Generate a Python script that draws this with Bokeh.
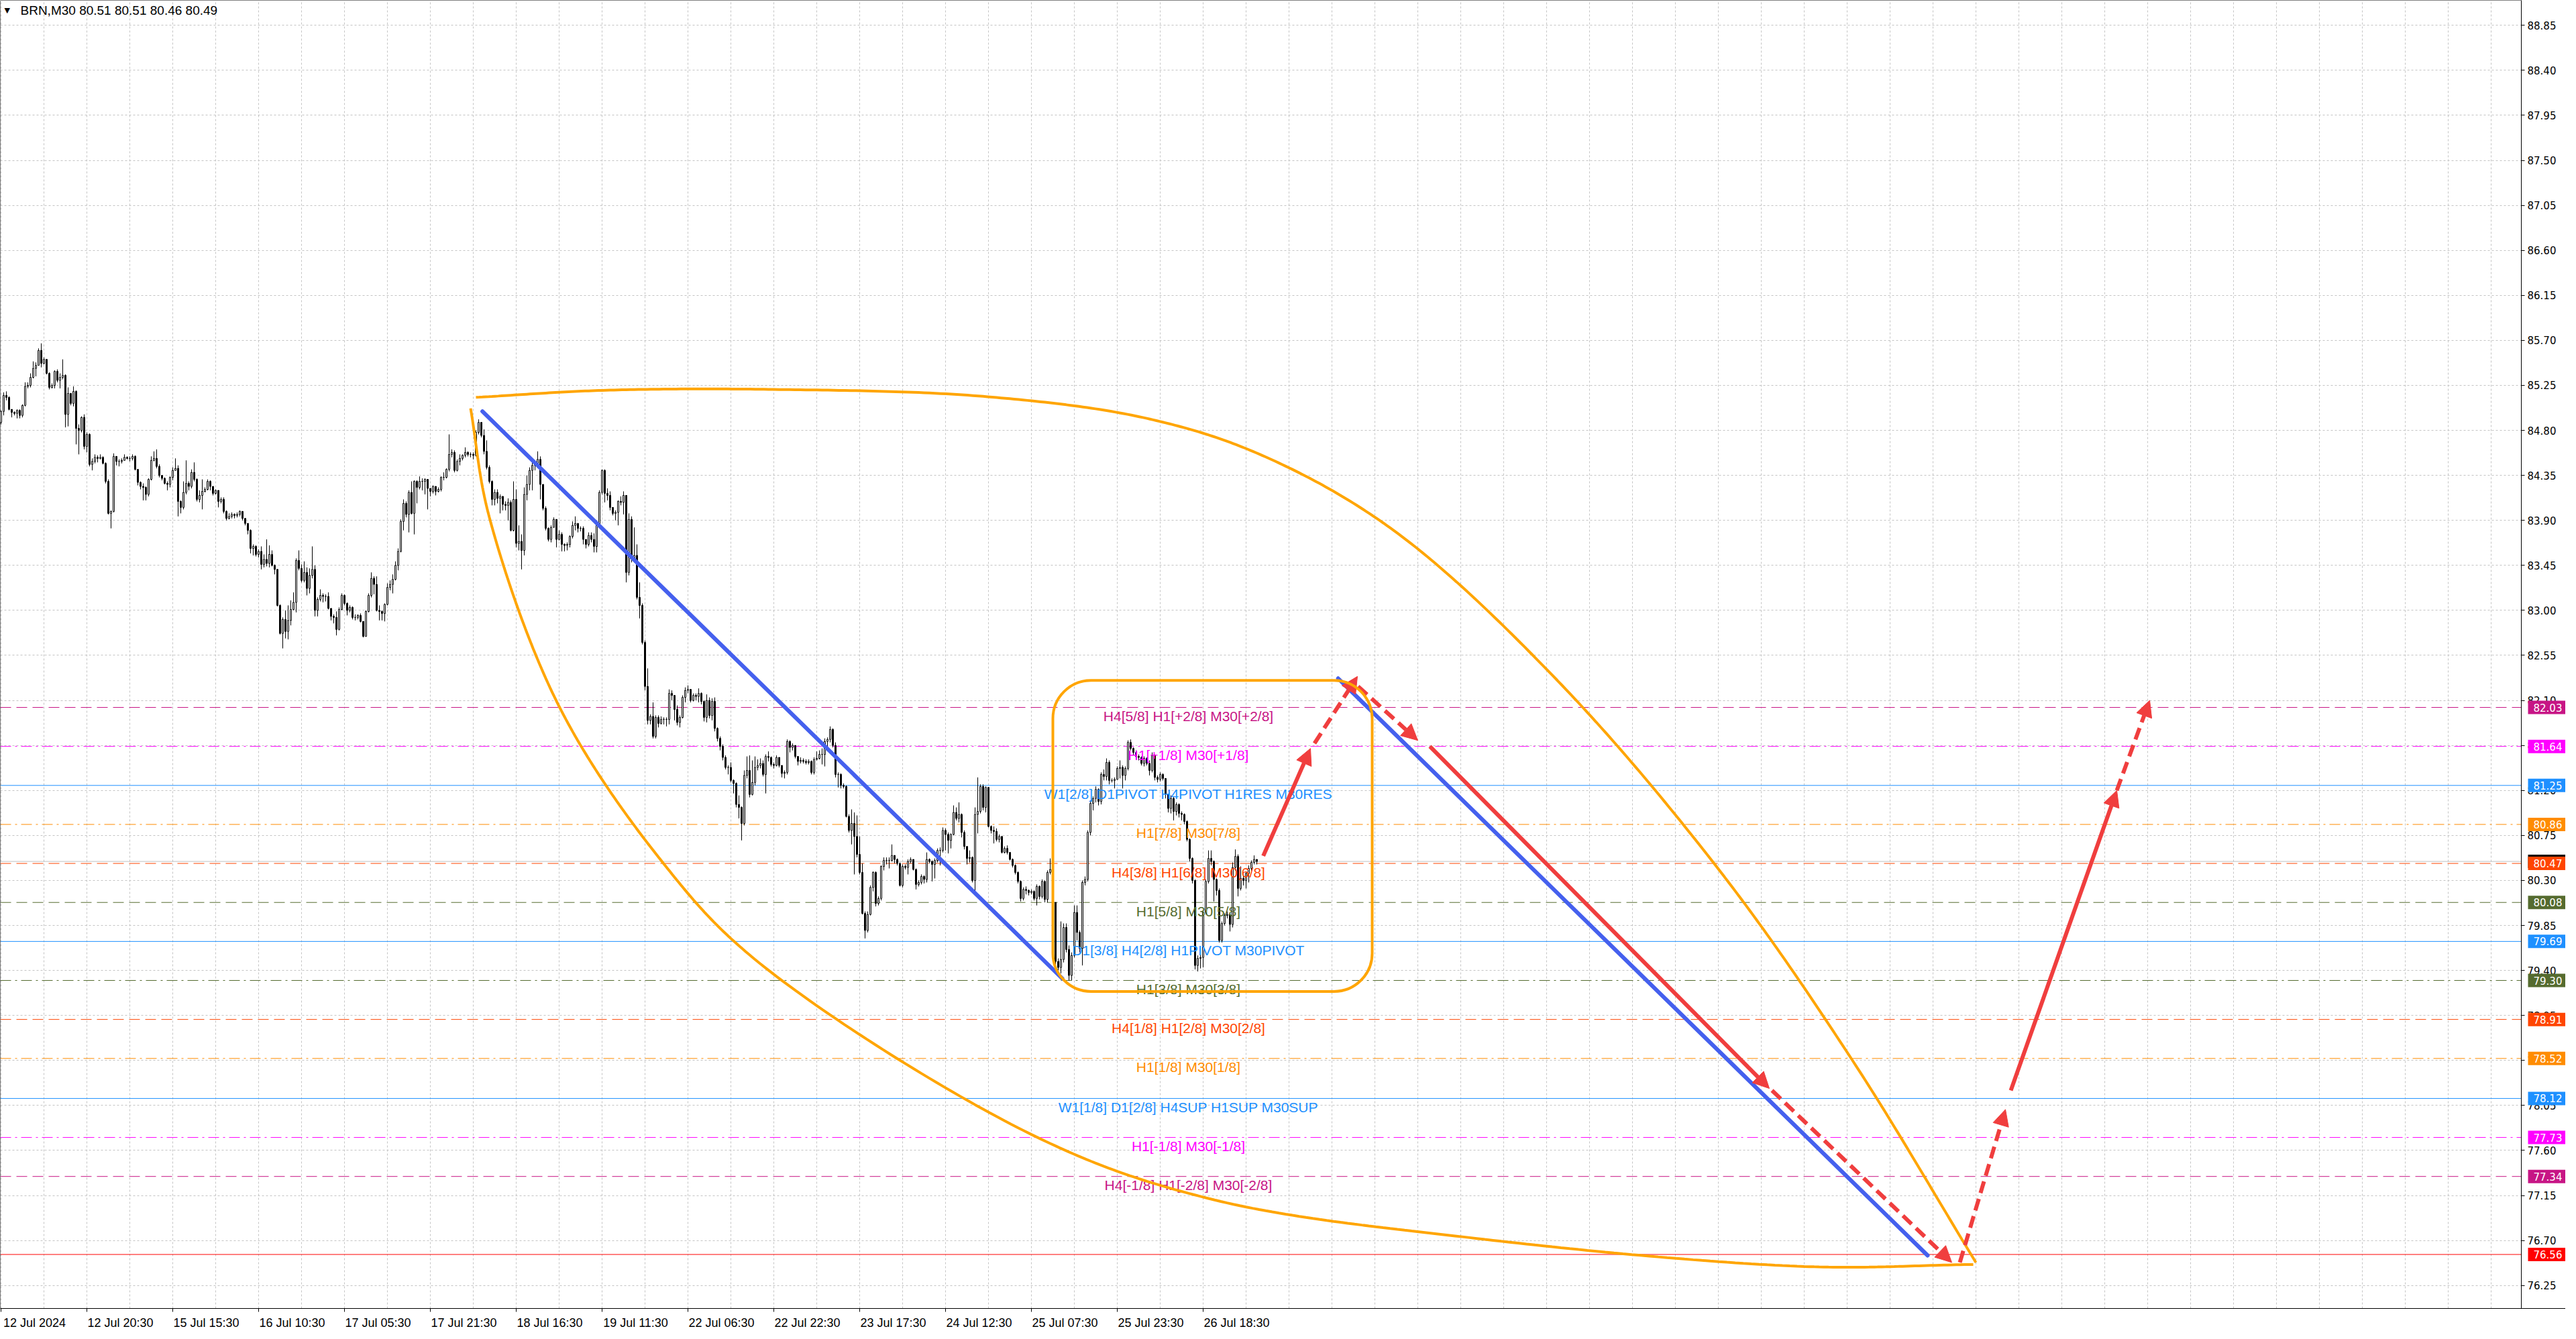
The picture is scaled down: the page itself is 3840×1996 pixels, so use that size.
import numpy as np
from bokeh.plotting import figure
from bokeh.models import (ColumnDataSource, Range1d, FixedTicker, Span, Label, Arrow,
                          NormalHead, BoxAnnotation, LinearAxis)
from bokeh.core.properties import value
from bokeh.embed import file_html
from bokeh.resources import INLINE

# ---------------- data ----------------
symbol = "BRN,M30"
first_open = 84.88

closes = [
    84.99, 85.15, 85.13, 85.01, 84.98, 84.97, 85.00, 84.95, 85.05, 85.24,
    85.25, 85.33, 85.42, 85.45, 85.60, 85.47, 85.51, 85.37, 85.23, 85.25,
    85.39, 85.30, 85.33, 85.35, 84.96, 85.17, 85.07, 85.19, 84.82, 84.80,
    84.93, 84.64, 84.76, 84.46, 84.49, 84.53, 84.52, 84.53, 84.47, 84.29,
    83.97, 83.99, 84.54, 84.49, 84.49, 84.50, 84.53, 84.52, 84.52, 84.54,
    84.41, 84.28, 84.24, 84.23, 84.16, 84.31, 84.50, 84.52, 84.44, 84.35,
    84.32, 84.27, 84.26, 84.33, 84.40, 84.42, 84.09, 84.03, 84.18, 84.27,
    84.24, 84.38, 84.31, 84.11, 84.15, 84.19, 84.21, 84.29, 84.24, 84.17,
    84.20, 84.09, 84.11, 83.99, 83.92, 83.94, 83.96, 83.95, 83.96, 83.99,
    83.92, 83.87, 83.80, 83.62, 83.64, 83.56, 83.59, 83.46, 83.51, 83.47,
    83.56, 83.45, 83.41, 83.05, 82.77, 82.91, 82.79, 82.90, 83.01, 83.08,
    83.50, 83.42, 83.30, 83.38, 83.22, 83.35, 83.41, 83.00, 83.11, 83.15,
    83.14, 83.14, 83.02, 82.94, 82.93, 82.81, 83.01, 83.15, 83.07, 83.00,
    83.03, 82.93, 82.93, 82.95, 82.89, 82.74, 82.99, 83.15, 83.32, 83.26,
    83.00, 82.99, 82.97, 83.06, 83.23, 83.26, 83.31, 83.45, 83.59, 83.89,
    84.07, 83.96, 84.18, 83.97, 84.29, 84.23, 84.29, 84.29, 84.31, 84.22,
    84.19, 84.24, 84.19, 84.21, 84.33, 84.33, 84.41, 84.56, 84.58, 84.40,
    84.49, 84.52, 84.55, 84.58, 84.56, 84.56, 84.55, 84.78, 84.88, 84.75,
    84.59, 84.43, 84.29, 84.11, 84.18, 84.12, 84.14, 84.06, 84.05, 84.08,
    83.80, 84.11, 83.67, 83.69, 83.60, 84.16, 84.26, 84.40, 84.45, 84.46,
    84.51, 84.26, 84.02, 83.82, 83.71, 83.83, 83.91, 83.71, 83.76, 83.66,
    83.65, 83.66, 83.74, 83.85, 83.87, 83.82, 83.82, 83.71, 83.66, 83.75,
    83.71, 83.64, 83.85, 84.18, 84.40, 84.17, 84.15, 84.03, 83.97, 83.98,
    84.09, 84.08, 84.15, 83.38, 83.91, 83.52, 83.55, 83.13, 83.05, 82.68,
    82.24, 81.90, 81.94, 81.74, 81.93, 81.87, 81.91, 81.91, 81.91, 82.17,
    82.15, 82.01, 81.88, 81.93, 82.13, 82.20, 82.21, 82.10, 82.15, 82.14,
    82.17, 82.09, 81.93, 82.10, 81.95, 82.09, 81.82, 81.72, 81.64, 81.53,
    81.43, 81.43, 81.30, 81.27, 81.06, 81.03, 80.87, 81.35, 81.40, 81.16,
    81.28, 81.43, 81.45, 81.47, 81.36, 81.54, 81.53, 81.46, 81.45, 81.53,
    81.45, 81.37, 81.38, 81.69, 81.63, 81.65, 81.54, 81.49, 81.50, 81.49,
    81.48, 81.49, 81.38, 81.51, 81.52, 81.56, 81.56, 81.69, 81.71, 81.81,
    81.65, 81.36, 81.36, 81.25, 81.24, 80.94, 80.80, 80.87, 80.74, 80.56,
    80.38, 79.97, 79.80, 79.96, 80.23, 80.38, 80.07, 80.12, 80.44, 80.50,
    80.50, 80.50, 80.55, 80.51, 80.47, 80.25, 80.44, 80.43, 80.49, 80.51,
    80.41, 80.26, 80.28, 80.34, 80.31, 80.51, 80.49, 80.46, 80.50, 80.60,
    80.60, 80.80, 80.76, 80.70, 80.76, 80.98, 80.92, 80.96, 80.78, 80.64,
    80.52, 80.53, 80.30, 80.96, 80.99, 81.24, 81.03, 81.23, 80.84, 80.80,
    80.79, 80.71, 80.74, 80.58, 80.62, 80.58, 80.51, 80.45, 80.38, 80.29,
    80.12, 80.21, 80.20, 80.18, 80.19, 80.12, 80.24, 80.14, 80.29, 80.11,
    80.38, 80.41, 80.08, 79.49, 79.43, 79.51, 79.83, 79.61, 79.35, 79.55,
    79.98, 79.78, 79.62, 80.28, 80.31, 80.78, 81.07, 81.12, 81.21, 81.09,
    81.36, 81.34, 81.48, 81.30, 81.30, 81.31, 81.42, 81.43, 81.35, 81.42,
    81.68, 81.62, 81.58, 81.54, 81.53, 81.47, 81.52, 81.47, 81.40, 81.55,
    81.33, 81.31, 81.36, 81.32, 81.16, 81.02, 81.12, 80.99, 81.06, 80.97,
    80.96, 80.89, 80.71, 80.52, 80.30, 79.45, 79.52, 79.53, 79.98, 80.29,
    80.52, 80.49, 80.31, 80.20, 79.70, 79.87, 79.95, 79.96, 79.86, 80.43,
    80.54, 80.22, 80.32, 80.30, 80.37, 80.42, 80.48, 80.51, 80.49,
]

highs = [
    85.00, 85.18, 85.19, 85.14, 85.00, 84.99, 85.01, 85.01, 85.06, 85.28,
    85.28, 85.37, 85.49, 85.48, 85.62, 85.67, 85.53, 85.51, 85.38, 85.27,
    85.40, 85.41, 85.37, 85.51, 85.36, 85.23, 85.16, 85.24, 85.20, 84.86,
    84.94, 84.96, 84.78, 84.77, 84.52, 84.56, 84.55, 84.56, 84.54, 84.48,
    84.31, 84.00, 84.57, 84.53, 84.51, 84.52, 84.56, 84.54, 84.54, 84.56,
    84.55, 84.41, 84.29, 84.27, 84.24, 84.32, 84.54, 84.59, 84.61, 84.46,
    84.35, 84.33, 84.29, 84.34, 84.43, 84.52, 84.45, 84.10, 84.29, 84.50,
    84.29, 84.41, 84.48, 84.32, 84.20, 84.31, 84.23, 84.31, 84.30, 84.23,
    84.21, 84.12, 84.13, 84.13, 84.00, 83.97, 83.98, 83.97, 83.98, 84.00,
    83.99, 83.92, 83.87, 83.81, 83.66, 83.65, 83.61, 83.64, 83.56, 83.71,
    83.65, 83.60, 83.46, 83.40, 83.06, 82.93, 83.00, 83.05, 83.10, 83.18,
    83.52, 83.60, 83.46, 83.49, 83.43, 83.42, 83.64, 83.45, 83.13, 83.21,
    83.17, 83.16, 83.18, 82.99, 82.96, 82.99, 83.03, 83.17, 83.16, 83.08,
    83.05, 83.04, 82.96, 82.96, 82.97, 82.89, 83.00, 83.17, 83.38, 83.34,
    83.34, 83.05, 83.00, 83.07, 83.27, 83.30, 83.36, 83.49, 83.62, 83.91,
    84.11, 84.09, 84.20, 84.29, 84.30, 84.30, 84.34, 84.32, 84.32, 84.29,
    84.22, 84.25, 84.23, 84.23, 84.34, 84.38, 84.42, 84.76, 84.61, 84.60,
    84.51, 84.56, 84.56, 84.63, 84.59, 84.58, 84.58, 84.80, 84.91, 84.88,
    84.81, 84.70, 84.45, 84.30, 84.21, 84.21, 84.16, 84.14, 84.09, 84.12,
    84.10, 84.29, 84.21, 83.85, 83.76, 84.23, 84.35, 84.43, 84.48, 84.48,
    84.59, 84.54, 84.26, 84.04, 83.83, 83.85, 83.93, 83.80, 83.80, 83.78,
    83.67, 83.68, 83.75, 83.89, 83.94, 83.85, 83.84, 83.84, 83.71, 83.78,
    83.78, 83.77, 83.87, 84.20, 84.41, 84.41, 84.22, 84.19, 84.03, 84.00,
    84.10, 84.14, 84.19, 84.09, 83.97, 83.94, 83.83, 83.66, 83.28, 83.07,
    82.70, 82.42, 81.96, 82.08, 81.95, 81.95, 81.94, 81.93, 81.93, 82.21,
    82.20, 82.14, 82.05, 81.95, 82.15, 82.23, 82.25, 82.21, 82.17, 82.17,
    82.22, 82.18, 82.10, 82.16, 82.13, 82.12, 82.13, 81.83, 81.74, 81.66,
    81.55, 81.45, 81.48, 81.31, 81.28, 81.15, 81.04, 81.40, 81.54, 81.55,
    81.50, 81.54, 81.51, 81.52, 81.50, 81.56, 81.59, 81.54, 81.48, 81.55,
    81.53, 81.41, 81.40, 81.71, 81.70, 81.67, 81.65, 81.54, 81.53, 81.52,
    81.51, 81.51, 81.50, 81.53, 81.59, 81.60, 81.62, 81.72, 81.73, 81.84,
    81.82, 81.68, 81.38, 81.37, 81.27, 81.25, 80.96, 81.01, 80.98, 80.95,
    80.74, 80.47, 79.99, 79.99, 80.25, 80.39, 80.39, 80.14, 80.45, 80.53,
    80.53, 80.53, 80.66, 80.54, 80.52, 80.48, 80.46, 80.46, 80.51, 80.53,
    80.51, 80.42, 80.30, 80.36, 80.35, 80.58, 80.52, 80.50, 80.52, 80.62,
    80.63, 80.83, 80.82, 80.78, 80.77, 81.05, 81.03, 81.08, 80.97, 80.80,
    80.63, 80.60, 80.54, 81.03, 81.33, 81.26, 81.26, 81.24, 81.23, 80.85,
    80.84, 80.82, 80.76, 80.72, 80.64, 80.65, 80.58, 80.52, 80.46, 80.39,
    80.30, 80.23, 80.24, 80.21, 80.21, 80.20, 80.26, 80.25, 80.31, 80.30,
    80.40, 80.52, 80.44, 80.08, 79.52, 79.89, 79.87, 79.87, 79.65, 79.58,
    80.05, 80.05, 79.80, 80.30, 80.34, 80.80, 81.10, 81.14, 81.24, 81.22,
    81.38, 81.41, 81.52, 81.50, 81.32, 81.33, 81.44, 81.50, 81.45, 81.44,
    81.70, 81.71, 81.63, 81.60, 81.56, 81.54, 81.54, 81.53, 81.50, 81.58,
    81.56, 81.35, 81.38, 81.37, 81.31, 81.16, 81.15, 81.14, 81.08, 81.07,
    80.99, 80.97, 80.90, 80.72, 80.53, 80.31, 79.55, 79.56, 80.00, 80.31,
    80.60, 80.60, 80.50, 80.32, 80.22, 79.89, 79.97, 79.99, 79.97, 80.48,
    80.61, 80.56, 80.44, 80.36, 80.39, 80.45, 80.50, 80.55, 80.51,
]

lows = [
    84.86, 84.95, 85.10, 85.00, 84.93, 84.95, 84.92, 84.92, 84.93, 85.04,
    85.22, 85.23, 85.32, 85.34, 85.45, 85.43, 85.46, 85.36, 85.21, 85.22,
    85.22, 85.28, 85.22, 85.31, 84.83, 84.84, 85.05, 85.04, 84.66, 84.56,
    84.78, 84.61, 84.58, 84.44, 84.40, 84.47, 84.48, 84.51, 84.46, 84.27,
    83.96, 83.82, 83.98, 84.45, 84.44, 84.47, 84.50, 84.51, 84.49, 84.50,
    84.40, 84.25, 84.21, 84.10, 84.10, 84.14, 84.30, 84.49, 84.42, 84.33,
    84.30, 84.26, 84.20, 84.23, 84.30, 84.40, 83.94, 83.97, 84.01, 84.16,
    84.20, 84.22, 84.29, 84.09, 84.08, 84.01, 84.18, 84.20, 84.20, 84.15,
    84.16, 84.03, 84.07, 83.97, 83.90, 83.91, 83.92, 83.92, 83.93, 83.94,
    83.90, 83.85, 83.76, 83.57, 83.55, 83.54, 83.53, 83.41, 83.43, 83.44,
    83.43, 83.44, 83.36, 83.04, 82.76, 82.62, 82.72, 82.71, 82.85, 83.00,
    82.98, 83.40, 83.28, 83.28, 83.15, 83.17, 83.32, 82.94, 82.94, 83.09,
    83.08, 83.09, 83.01, 82.90, 82.87, 82.75, 82.80, 83.00, 83.05, 82.95,
    82.98, 82.91, 82.90, 82.91, 82.88, 82.73, 82.74, 82.98, 83.13, 83.16,
    82.99, 82.90, 82.90, 82.89, 83.05, 83.20, 83.17, 83.30, 83.40, 83.58,
    83.80, 83.93, 83.78, 83.96, 83.76, 84.07, 84.21, 84.20, 84.16, 84.01,
    84.14, 84.17, 84.15, 84.18, 84.19, 84.30, 84.32, 84.39, 84.53, 84.38,
    84.39, 84.45, 84.50, 84.53, 84.54, 84.53, 84.51, 84.54, 84.76, 84.73,
    84.56, 84.41, 84.27, 84.05, 84.05, 84.07, 83.97, 84.00, 84.00, 83.90,
    83.79, 83.79, 83.63, 83.60, 83.41, 83.55, 84.10, 84.20, 84.20, 84.40,
    84.45, 84.11, 84.00, 83.80, 83.69, 83.68, 83.85, 83.63, 83.70, 83.59,
    83.59, 83.60, 83.63, 83.72, 83.80, 83.78, 83.79, 83.66, 83.62, 83.64,
    83.68, 83.58, 83.58, 83.83, 84.16, 84.08, 84.10, 84.00, 83.95, 83.90,
    83.85, 84.05, 83.96, 83.28, 83.35, 83.48, 83.48, 83.11, 82.92, 82.66,
    82.20, 81.86, 81.86, 81.72, 81.72, 81.83, 81.86, 81.86, 81.84, 81.86,
    82.10, 81.90, 81.85, 81.83, 81.92, 82.08, 82.17, 82.08, 82.09, 82.10,
    82.08, 82.06, 81.89, 81.88, 81.92, 81.90, 81.79, 81.69, 81.60, 81.50,
    81.41, 81.36, 81.28, 81.17, 81.03, 80.92, 80.70, 80.85, 81.32, 81.13,
    81.15, 81.25, 81.40, 81.42, 81.34, 81.17, 81.49, 81.44, 81.42, 81.44,
    81.43, 81.33, 81.32, 81.36, 81.58, 81.60, 81.52, 81.45, 81.47, 81.47,
    81.46, 81.46, 81.36, 81.36, 81.50, 81.51, 81.46, 81.44, 81.60, 81.68,
    81.63, 81.33, 81.23, 81.22, 81.22, 80.93, 80.78, 80.66, 80.36, 80.53,
    80.36, 79.96, 79.72, 79.78, 79.95, 80.19, 80.04, 80.05, 80.10, 80.40,
    80.46, 80.42, 80.49, 80.47, 80.45, 80.24, 80.23, 80.41, 80.36, 80.47,
    80.40, 80.21, 80.24, 80.26, 80.27, 80.28, 80.47, 80.29, 80.32, 80.48,
    80.45, 80.58, 80.60, 80.57, 80.62, 80.75, 80.90, 80.88, 80.73, 80.61,
    80.46, 80.48, 80.28, 80.15, 80.77, 80.97, 81.00, 80.98, 80.83, 80.77,
    80.67, 80.69, 80.68, 80.57, 80.57, 80.56, 80.50, 80.43, 80.36, 80.27,
    80.09, 80.10, 80.16, 80.15, 80.16, 80.10, 80.05, 80.11, 80.12, 80.08,
    80.08, 80.36, 80.05, 79.45, 79.40, 79.37, 79.48, 79.58, 79.30, 79.30,
    79.53, 79.70, 79.58, 79.45, 80.25, 80.29, 80.75, 81.00, 81.08, 81.05,
    81.06, 81.30, 81.30, 81.26, 81.28, 81.22, 81.33, 81.32, 81.22, 81.30,
    81.40, 81.60, 81.55, 81.52, 81.50, 81.45, 81.44, 81.45, 81.35, 81.38,
    81.30, 81.28, 81.29, 81.30, 81.12, 80.98, 80.97, 80.90, 80.95, 80.93,
    80.90, 80.86, 80.69, 80.49, 80.27, 79.41, 79.39, 79.42, 79.43, 79.96,
    80.27, 80.45, 80.09, 80.15, 79.68, 79.68, 79.85, 79.92, 79.79, 79.83,
    80.40, 80.14, 80.20, 80.25, 80.22, 80.28, 80.40, 80.46, 80.46,
]

x_tick_bars = [0, 32, 64, 96, 128, 160, 192, 224, 256, 288, 320, 352, 384, 416, 448]
x_tick_labels = ["12 Jul 2024", "12 Jul 20:30", "15 Jul 15:30", "16 Jul 10:30",
                 "17 Jul 05:30", "17 Jul 21:30", "18 Jul 16:30", "19 Jul 11:30",
                 "22 Jul 06:30", "22 Jul 22:30", "23 Jul 17:30", "24 Jul 12:30",
                 "25 Jul 07:30", "25 Jul 23:30", "26 Jul 18:30"]

y_ticks = [76.25, 76.70, 77.15, 77.60, 78.05, 78.50, 78.95, 79.40, 79.85, 80.30,
           80.75, 81.20, 81.65, 82.10, 82.55, 83.00, 83.45, 83.90, 84.35, 84.80,
           85.25, 85.70, 86.15, 86.60, 87.05, 87.50, 87.95, 88.40, 88.85]
y_tick_labels = ["76.25", "76.70", "77.15", "77.60", "78.05", "78.50", "78.95", "79.40",
                 "79.85", "80.30", "80.75", "81.20", "81.65", "82.10", "82.55", "83.00",
                 "83.45", "83.90", "84.35", "84.80", "85.25", "85.70", "86.15", "86.60",
                 "87.05", "87.50", "87.95", "88.40", "88.85"]

level_prices = [82.03, 81.64, 81.25, 80.86, 80.47, 80.08, 79.69, 79.30,
                78.91, 78.52, 78.12, 77.73, 77.34]
level_texts = ["H4[5/8] H1[+2/8] M30[+2/8]",
               "H1[+1/8] M30[+1/8]",
               "W1[2/8] D1PIVOT H4PIVOT H1RES M30RES",
               "H1[7/8] M30[7/8]",
               "H4[3/8] H1[6/8] M30[6/8]",
               "H1[5/8] M30[5/8]",
               "D1[3/8] H4[2/8] H1PIVOT M30PIVOT",
               "H1[3/8] M30[3/8]",
               "H4[1/8] H1[2/8] M30[2/8]",
               "H1[1/8] M30[1/8]",
               "W1[1/8] D1[2/8] H4SUP H1SUP M30SUP",
               "H1[-1/8] M30[-1/8]",
               "H4[-1/8] H1[-2/8] M30[-2/8]"]
target_price = 76.56

# trend lines (bar index, price)
blue_x0 = [179.4, 498.3]
blue_y0 = [84.99, 82.32]
blue_x1 = [395.5, 718.0]
blue_y1 = [79.32, 76.55]

# orange curved outline, points read along the two arcs
upper_arc_bars = [177, 224, 286, 366, 427, 470, 519, 580, 641, 690, 736]
upper_arc_prices = [85.13, 85.20, 85.21, 85.14, 84.92, 84.55, 83.80, 82.30, 80.38, 78.50, 76.48]
lower_arc_bars = [175, 182, 208, 246, 281, 384, 450, 550, 672, 735]
lower_arc_prices = [85.02, 83.93, 82.04, 80.50, 79.51, 77.76, 77.12, 76.72, 76.44, 76.46]

# rounded consolidation box
box_left_bar, box_right_bar = 392, 511
box_top_price, box_bottom_price = 82.30, 79.19

# red forecast arrows
arrow_x0 = [470.4, 489.5, 505.75, 532.5, 660.0, 730.0, 749.0, 788.5]
arrow_y0 = [80.545, 81.67, 82.24, 81.64, 78.20, 76.48, 78.20, 81.20]
arrow_x1 = [488.0, 505.5, 528.0, 659.0, 727.0, 747.0, 788.5, 800.75]
arrow_y1 = [81.62, 82.34, 81.70, 78.22, 76.48, 78.01, 81.20, 82.10]
arrow_dashed = [False, True, True, False, True, True, False, True]

# ---------------- styles ----------------
level_colors = ["#C71585", "#FF00FF", "#1E90FF", "#FF8C00", "#FF4500", "#556B2F",
                "#1E90FF", "#556B2F", "#FF4500", "#FF8C00", "#1E90FF", "#FF00FF", "#C71585"]
DASH = "16 8"
DASHDOT = "16 6 3 6"
level_dashes = [DASH, DASHDOT, "solid", DASHDOT, DASH, DASH, "solid", DASHDOT,
                DASH, DASHDOT, "solid", DASHDOT, DASH]
ORANGE = "#FFA500"
BLUE = "#4560EE"
RED = "#F03E3E"
TEXT_CENTER_BAR = 442.5
W, H = 3824, 1984
XMIN = -0.25
PLOT_RIGHT = 939.25          # right edge of the price area (bar units)
XEND = XMIN + W / 4.0        # frame also covers the price-scale strip
YMIN, YMAX = 76.02, 89.10


def smooth(xs, ys, n=40, sx=4.0, sy=149.5):
    P = np.column_stack([np.asarray(xs, float) * sx, np.asarray(ys, float) * sy])
    P = np.vstack([2 * P[0] - P[1], P, 2 * P[-1] - P[-2]])
    out = []
    for i in range(1, len(P) - 2):
        p0, p1, p2, p3 = P[i - 1], P[i], P[i + 1], P[i + 2]
        t0 = 0.0
        t1 = t0 + np.linalg.norm(p1 - p0) ** 0.5
        t2 = t1 + np.linalg.norm(p2 - p1) ** 0.5
        t3 = t2 + np.linalg.norm(p3 - p2) ** 0.5
        t = np.linspace(t1, t2, n)[:, None]
        A1 = (t1 - t) / (t1 - t0) * p0 + (t - t0) / (t1 - t0) * p1
        A2 = (t2 - t) / (t2 - t1) * p1 + (t - t1) / (t2 - t1) * p2
        A3 = (t3 - t) / (t3 - t2) * p2 + (t - t2) / (t3 - t2) * p3
        B1 = (t2 - t) / (t2 - t0) * A1 + (t - t0) / (t2 - t0) * A2
        B2 = (t3 - t) / (t3 - t1) * A2 + (t - t1) / (t3 - t1) * A3
        out.append((t2 - t) / (t2 - t1) * B1 + (t - t1) / (t2 - t1) * B2)
    C = np.vstack(out)
    return C[:, 0] / sx, C[:, 1] / sy


# ---------------- figure ----------------
p = figure(width=W, height=H, x_range=Range1d(XMIN, XEND), y_range=Range1d(YMIN, YMAX),
           output_backend="svg", toolbar_location=None, y_axis_location=None,
           min_border_left=0, min_border_right=0, min_border_top=0, min_border_bottom=28)
p.background_fill_color = "white"
p.border_fill_color = "white"
p.outline_line_color = None

# grid
p.xgrid.ticker = FixedTicker(ticks=list(range(0, 930, 16)))
p.ygrid.ticker = FixedTicker(ticks=y_ticks)
p.grid.grid_line_color = "#C4C4C4"
p.grid.grid_line_dash = "3 3"
p.grid.grid_line_width = 1

# price scale on the right, fixed at the right edge of the price area
yaxis = LinearAxis(fixed_location=PLOT_RIGHT, ticker=FixedTicker(ticks=y_ticks),
                   major_label_overrides=dict(zip(y_ticks, y_tick_labels)))
yaxis.major_label_text_font = "DejaVu Sans"
yaxis.major_label_text_font_size = "15px"
yaxis.major_label_text_color = "black"
yaxis.major_tick_out = 5
yaxis.major_tick_in = 0
yaxis.minor_tick_line_color = None
yaxis.major_label_standoff = 4
yaxis.axis_line_color = "black"
p.add_layout(yaxis, "right")

# x axis (bottom): labels start at tick like MT4
label_centers = [b + 12.5 for b in x_tick_bars]
p.xaxis.ticker = FixedTicker(ticks=label_centers, minor_ticks=x_tick_bars)
p.xaxis.major_label_overrides = dict(zip(label_centers, x_tick_labels))
p.xaxis.major_tick_line_color = None
p.xaxis.major_tick_out = 0
p.xaxis.major_tick_in = 0
p.xaxis.minor_tick_out = 5
p.xaxis.minor_tick_in = 0
p.xaxis.minor_tick_line_color = "black"
p.xaxis.major_label_text_font = "Liberation Sans"
p.xaxis.major_label_text_font_size = "18px"
p.xaxis.major_label_text_color = "black"
p.xaxis.major_label_standoff = 6
p.xaxis.axis_line_color = "black"

# level lines
for price, col, dash in zip(level_prices, level_colors, level_dashes):
    p.add_layout(Span(location=price, dimension="width", line_color=col,
                      line_dash=dash, line_width=1, level="underlay"))
p.add_layout(Span(location=target_price, dimension="width", line_color="#FF0000",
                  line_width=1, level="underlay"))
p.add_layout(Span(location=closes[-1], dimension="width", line_color="#C0C0C0",
                  line_width=1, level="underlay"))

# blank the price-scale strip (hides grid / level lines there)
p.add_layout(BoxAnnotation(left=PLOT_RIGHT, fill_color="white", fill_alpha=1.0,
                           line_color=None, level="glyph"))
# frame of the price area
p.add_layout(BoxAnnotation(left=XMIN, right=PLOT_RIGHT, top=YMAX, bottom=YMIN,
                           fill_color=None, fill_alpha=0, line_color="black",
                           line_alpha=1.0, line_width=1, level="guide"))

# candles
n = len(closes)
opens = [first_open] + closes[:-1]
xs = list(range(n))
tops = [max(o, c) for o, c in zip(opens, closes)]
bots = [min(o, c) for o, c in zip(opens, closes)]
fills = ["white" if c >= o else "black" for o, c in zip(opens, closes)]
src = ColumnDataSource(dict(x=xs, hi=[max(h, t) for h, t in zip(highs, tops)],
                            lo=[min(l, b) for l, b in zip(lows, bots)],
                            top=tops, bottom=bots, fill=fills))
p.segment(x0="x", y0="lo", x1="x", y1="hi", source=src, line_color="black", line_width=1)
p.vbar(x="x", width=0.5, top="top", bottom="bottom", source=src, fill_color="fill",
       line_color="black", line_width=1)

# level texts
tsrc = ColumnDataSource(dict(x=[TEXT_CENTER_BAR] * len(level_prices), y=level_prices,
                             t=level_texts, c=level_colors))
p.text(x="x", y="y", text="t", text_color="c", source=tsrc,
       text_font=value("Liberation Sans"), text_font_size="21px",
       text_align="center", text_baseline="middle", y_offset=13)

# blue trend lines
p.segment(x0=blue_x0, y0=blue_y0, x1=blue_x1, y1=blue_y1, line_color=BLUE,
          line_width=6, line_cap="round")

# orange arcs
ux, uy = smooth(upper_arc_bars, upper_arc_prices)
lx, ly = smooth(lower_arc_bars, lower_arc_prices)
p.line(ux, uy, line_color=ORANGE, line_width=4)
p.line(lx, ly, line_color=ORANGE, line_width=4)

# rounded box
p.add_layout(BoxAnnotation(left=box_left_bar, right=box_right_bar, top=box_top_price,
                           bottom=box_bottom_price, fill_color=None, fill_alpha=0,
                           line_color=ORANGE, line_alpha=1.0, line_width=4,
                           border_radius=57, level="overlay"))

# red arrows
for x0, y0, x1, y1, dashed in zip(arrow_x0, arrow_y0, arrow_x1, arrow_y1, arrow_dashed):
    p.add_layout(Arrow(x_start=x0, y_start=y0, x_end=x1, y_end=y1, line_color=RED,
                       line_width=6, line_dash="18 9" if dashed else "solid",
                       end=NormalHead(size=24, fill_color=RED, line_color=RED, line_width=1)))

# price tags on right axis
tag_prices = [closes[-1]] + level_prices + [target_price]
tag_colors = ["black"] + level_colors + ["#FF0000"]
for price, col in zip(tag_prices, tag_colors):
    p.add_layout(Label(x=PLOT_RIGHT, y=price, x_offset=10, text=f"{price:.2f}",
                       text_color="white", background_fill_color=col,
                       background_fill_alpha=1.0,
                       text_font="DejaVu Sans", text_font_size="15px",
                       text_baseline="middle", text_align="left",
                       padding=dict(left=8, right=7, top=4, bottom=4)))

# header
p.add_layout(Label(x=XMIN, y=89.00, x_offset=6, text="\u25BC", text_color="black",
                   text_font="DejaVu Sans", text_font_size="11px", text_baseline="middle"))
p.add_layout(Label(x=XMIN, y=89.00, x_offset=30,
                   text=f"{symbol}  {opens[-1]:.2f} {highs[-1]:.2f} {lows[-1]:.2f} {closes[-1]:.2f}",
                   text_color="black", text_font="Liberation Sans", text_font_size="19px",
                   text_baseline="middle"))

open("out.html", "w").write(file_html(p, INLINE))
